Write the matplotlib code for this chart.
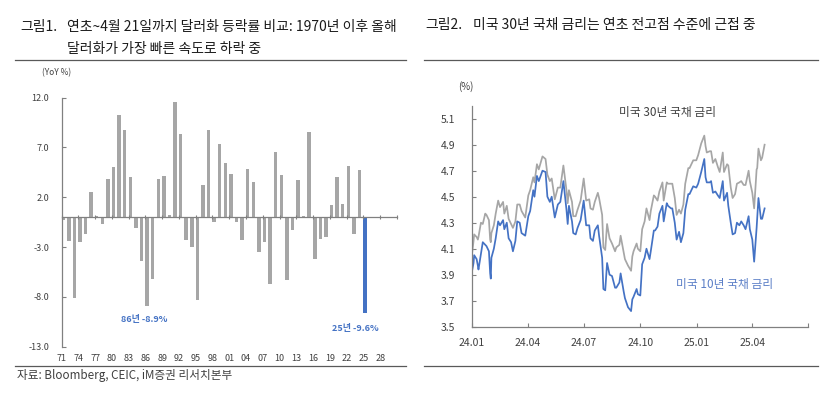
"""Two panels: USD change YTD to Apr 21 by year, and US 10y / 30y yields."""
import numpy as np
import pandas as pd
import matplotlib
matplotlib.use("Agg")
import matplotlib.pyplot as plt
from matplotlib.lines import Line2D
import matplotlib.transforms as mtransforms

plt.rcParams["font.family"] = ["Noto Sans CJK KR", "DejaVu Sans"]

# --- left panel data: dollar change, Jan 1 ~ Apr 21 (YoY %) ---
years = list(range(1971, 2026))
usd_chg = [
    -0.3, -2.4, -8.1, -2.45, -1.7, 2.55, 0.1, -0.7, 3.8, 5.05,
    10.3, 8.8, 4.0, -1.05, -4.4, -8.9, -6.2, 3.8, 4.15, 0.2,
    11.6, 8.35, -2.3, -3.0, -8.3, 3.2, 8.75, -0.45, 7.4, 5.45,
    4.3, -0.45, -2.3, 4.85, 3.5, -3.5, -2.45, -6.7, 6.5, 4.2,
    -6.3, -1.3, 3.7, 0.1, 8.6, -4.2, -2.2, -2.0, 1.2, 4.0,
    1.3, 5.1, -1.7, 4.75, -9.6,
]
bar_ticks = list(range(1971, 2029, 3))
bar_yticks = [12.0, 7.0, 2.0, -3.0, -8.0, -13.0]

# --- right panel data: US treasury yields (%) ---
rate_dates = [
    "2024-01-02", "2024-01-04", "2024-01-05", "2024-01-09", "2024-01-11", "2024-01-12",
    "2024-01-16", "2024-01-19", "2024-01-23", "2024-01-25", "2024-01-29", "2024-01-31",
    "2024-02-01", "2024-02-02", "2024-02-06", "2024-02-09", "2024-02-13", "2024-02-16",
    "2024-02-21", "2024-02-23", "2024-02-27", "2024-03-01", "2024-03-05", "2024-03-08",
    "2024-03-12", "2024-03-15", "2024-03-19", "2024-03-22", "2024-03-28", "2024-04-02",
    "2024-04-05", "2024-04-10", "2024-04-12", "2024-04-16", "2024-04-19", "2024-04-25",
    "2024-04-30", "2024-05-03", "2024-05-07", "2024-05-10", "2024-05-15", "2024-05-20",
    "2024-05-24", "2024-05-29", "2024-06-03", "2024-06-05", "2024-06-07", "2024-06-12",
    "2024-06-14", "2024-06-18", "2024-06-21", "2024-06-26", "2024-07-01", "2024-07-05",
    "2024-07-10", "2024-07-12", "2024-07-16", "2024-07-19", "2024-07-24", "2024-07-26",
    "2024-07-31", "2024-08-02", "2024-08-05", "2024-08-08", "2024-08-12", "2024-08-16",
    "2024-08-21", "2024-08-23", "2024-08-28", "2024-08-30", "2024-09-04", "2024-09-06",
    "2024-09-11", "2024-09-16", "2024-09-18", "2024-09-20", "2024-09-25", "2024-09-27",
    "2024-10-01", "2024-10-04", "2024-10-08", "2024-10-11", "2024-10-16", "2024-10-18",
    "2024-10-23", "2024-10-25", "2024-10-29", "2024-11-01", "2024-11-06", "2024-11-08",
    "2024-11-13", "2024-11-15", "2024-11-20", "2024-11-22", "2024-11-26", "2024-11-29",
    "2024-12-03", "2024-12-06", "2024-12-10", "2024-12-13", "2024-12-18", "2024-12-20",
    "2024-12-26", "2024-12-31", "2025-01-03", "2025-01-08", "2025-01-13", "2025-01-15",
    "2025-01-17", "2025-01-22", "2025-01-24", "2025-01-27", "2025-01-31", "2025-02-04",
    "2025-02-07", "2025-02-12", "2025-02-14", "2025-02-19", "2025-02-21", "2025-02-25",
    "2025-02-28", "2025-03-04", "2025-03-07", "2025-03-11", "2025-03-14", "2025-03-18",
    "2025-03-21", "2025-03-26", "2025-03-28", "2025-04-01", "2025-04-04", "2025-04-08",
    "2025-04-09", "2025-04-11", "2025-04-15", "2025-04-17", "2025-04-21",
]
ust10 = [
    3.94, 3.99, 4.05, 4.02, 3.97, 3.94, 4.06, 4.15, 4.13, 4.12, 4.08, 3.91,
    3.87, 4.03, 4.10, 4.18, 4.31, 4.28, 4.32, 4.25, 4.30, 4.18, 4.15, 4.08,
    4.16, 4.31, 4.30, 4.22, 4.20, 4.35, 4.39, 4.55, 4.50, 4.66, 4.62, 4.70,
    4.69, 4.50, 4.46, 4.50, 4.34, 4.44, 4.46, 4.62, 4.40, 4.29, 4.43, 4.31,
    4.22, 4.21, 4.26, 4.32, 4.47, 4.28, 4.28, 4.18, 4.16, 4.24, 4.28, 4.20,
    4.03, 3.79, 3.78, 3.99, 3.90, 3.89, 3.80, 3.80, 3.84, 3.91, 3.77, 3.72,
    3.65, 3.62, 3.71, 3.73, 3.79, 3.75, 3.74, 3.98, 4.03, 4.10, 4.02, 4.08,
    4.24, 4.24, 4.27, 4.37, 4.43, 4.31, 4.45, 4.43, 4.41, 4.41, 4.30, 4.17,
    4.23, 4.15, 4.22, 4.40, 4.52, 4.52, 4.58, 4.57, 4.60, 4.69, 4.79, 4.65,
    4.61, 4.61, 4.62, 4.53, 4.54, 4.51, 4.49, 4.62, 4.47, 4.53, 4.43, 4.30,
    4.21, 4.22, 4.30, 4.28, 4.31, 4.28, 4.25, 4.35, 4.25, 4.17, 4.00, 4.26,
    4.34, 4.49, 4.33, 4.33, 4.41,
]
ust30 = [
    4.08, 4.16, 4.21, 4.19, 4.17, 4.19, 4.30, 4.29, 4.37, 4.36, 4.32, 4.17,
    4.15, 4.22, 4.28, 4.37, 4.47, 4.42, 4.46, 4.37, 4.43, 4.33, 4.29, 4.26,
    4.31, 4.44, 4.44, 4.39, 4.34, 4.51, 4.55, 4.65, 4.61, 4.75, 4.71, 4.81,
    4.79, 4.67, 4.62, 4.64, 4.48, 4.57, 4.57, 4.74, 4.55, 4.45, 4.55, 4.46,
    4.35, 4.35, 4.40, 4.47, 4.64, 4.47, 4.48, 4.41, 4.40, 4.46, 4.53, 4.49,
    4.36, 4.11, 4.09, 4.29, 4.18, 4.14, 4.08, 4.11, 4.13, 4.20, 4.07, 4.02,
    3.97, 3.93, 4.04, 4.08, 4.14, 4.10, 4.08, 4.25, 4.31, 4.41, 4.32, 4.39,
    4.51, 4.50, 4.47, 4.54, 4.61, 4.47, 4.61, 4.60, 4.60, 4.60, 4.49, 4.36,
    4.40, 4.37, 4.44, 4.60, 4.72, 4.72, 4.78, 4.78, 4.82, 4.91, 4.97, 4.89,
    4.84, 4.85, 4.85, 4.76, 4.79, 4.73, 4.69, 4.84, 4.69, 4.75, 4.74, 4.57,
    4.49, 4.52, 4.60, 4.61, 4.62, 4.59, 4.59, 4.70, 4.62, 4.53, 4.41, 4.71,
    4.72, 4.87, 4.78, 4.80, 4.90,
]
rate_ticks = ["2024-01-01", "2024-04-01", "2024-07-01", "2024-10-01",
              "2025-01-01", "2025-04-01", "2025-07-01"]
rate_tick_labels = ["24.01", "24.04", "24.07", "24.10", "25.01", "25.04", ""]
rate_yticks = [3.5, 3.7, 3.9, 4.1, 4.3, 4.5, 4.7, 4.9, 5.1]

GRAY = "#A6A6A6"
BLUE = "#4472C4"
TXT = "#404040"
AXC = "#808080"

W, H = 827, 396
fig = plt.figure(figsize=(W / 100, H / 100), dpi=100)


def fx(px):
    return px / W


def fy(py):
    return 1 - py / H


def rule(x0, x1, y):
    fig.add_artist(Line2D([fx(x0), fx(x1)], [fy(y), fy(y)],
                          color="#595959", lw=0.9, transform=fig.transFigure))


# titles and rules
TSIZE = 10
fig.text(fx(20), fy(27), "그림1.", fontsize=TSIZE, color="#1a1a1a", va="center")
fig.text(fx(67), fy(27), "연초~4월 21일까지 달러화 등락률 비교: 1970년 이후 올해",
         fontsize=TSIZE, color="#1a1a1a", va="center")
fig.text(fx(67), fy(49), "달러화가 가장 빠른 속도로 하락 중",
         fontsize=TSIZE, color="#1a1a1a", va="center")
fig.text(fx(425), fy(25), "그림2.", fontsize=TSIZE, color="#1a1a1a", va="center")
fig.text(fx(473), fy(25), "미국 30년 국채 금리는 연초 전고점 수준에 근접 중",
         fontsize=TSIZE, color="#1a1a1a", va="center")
rule(15, 406, 59.5)
rule(424, 818, 59.5)
rule(15, 406, 366)
rule(424, 818, 366)
fig.text(fx(17), fy(376), "자료: Bloomberg, CEIC, iM증권 리서치본부",
         fontsize=8.4, color=TXT, va="center")

# --- left: bars ---
ax1 = fig.add_axes([fx(61.5), fy(346.7), fx(397) - fx(61.5), fy(97.7) - fy(346.7)])
colors = [GRAY] * (len(years) - 1) + [BLUE]
ax1.bar(np.array(years) - 0.2, usd_chg, width=0.62, color=colors)
ax1.set_xlim(1970.5, 2030.5)
ax1.set_ylim(-13, 12)
ax1.set_yticks(bar_yticks)
ax1.set_yticklabels([f"{v:.1f}" for v in bar_yticks])
ax1.spines["top"].set_visible(False)
ax1.spines["right"].set_visible(False)
ax1.spines["bottom"].set_position(("data", 0))
for s in ("left", "bottom"):
    ax1.spines[s].set_color(AXC)
    ax1.spines[s].set_linewidth(0.9)
ax1.set_xticks([y - 0.5 for y in bar_ticks] + [2030.5])
ax1.tick_params(axis="x", direction="inout", length=3, color=AXC, labelbottom=False)
ax1.tick_params(axis="y", direction="in", length=3, color=AXC, pad=9,
                labelsize=6.5, labelcolor=TXT)
trans = mtransforms.blended_transform_factory(ax1.transData, ax1.transAxes)
for y in bar_ticks:
    ax1.text(y - 0.5, -0.046, f"{y % 100:02d}", transform=trans, ha="center",
             va="center", fontsize=6.5, color=TXT)
ax1.text(1985.2, -10.3, "86년 -8.9%", color=BLUE, fontsize=6.5, ha="center",
         va="center", fontweight="bold")
ax1.text(2023.1, -11.2, "25년 -9.6%", color=BLUE, fontsize=6.5, ha="center",
         va="center", fontweight="bold")
fig.text(fx(57), fy(73), "(YoY %)", fontsize=6, color=TXT, ha="center", va="center")

# --- right: yields ---
ax2 = fig.add_axes([fx(471.7), fy(326.7), fx(808.3) - fx(471.7), fy(105.7) - fy(326.7)])
dates = pd.to_datetime(rate_dates)
ax2.plot(dates, ust30, color=GRAY, lw=1.25)
ax2.plot(dates, ust10, color=BLUE, lw=1.25)
ax2.set_xlim(pd.Timestamp("2024-01-01"), pd.Timestamp("2025-07-01"))
ax2.set_ylim(3.5, 5.2)
ax2.set_xticks(pd.to_datetime(rate_ticks))
ax2.set_xticklabels(rate_tick_labels)
ax2.set_yticks(rate_yticks)
ax2.set_yticklabels([f"{v:.1f}" for v in rate_yticks])
ax2.spines["top"].set_visible(False)
ax2.spines["right"].set_visible(False)
for s in ("left", "bottom"):
    ax2.spines[s].set_color(AXC)
    ax2.spines[s].set_linewidth(0.9)
ax2.tick_params(axis="x", direction="in", length=3, color=AXC, pad=8,
                labelsize=7.5, labelcolor=TXT)
ax2.tick_params(axis="y", direction="in", length=3, color=AXC, pad=12,
                labelsize=7.5, labelcolor=TXT)
ax2.text(0.583, 0.967, "미국 30년 국채 금리", transform=ax2.transAxes,
         fontsize=8.5, color=TXT, ha="center", va="center")
ax2.text(0.75, 0.189, "미국 10년 국채 금리", transform=ax2.transAxes,
         fontsize=8.5, color="#5B7FC7", ha="center", va="center")
fig.text(fx(466), fy(87), "(%)", fontsize=7, color=TXT, ha="center", va="center")

fig.savefig("out.png", dpi=100)
